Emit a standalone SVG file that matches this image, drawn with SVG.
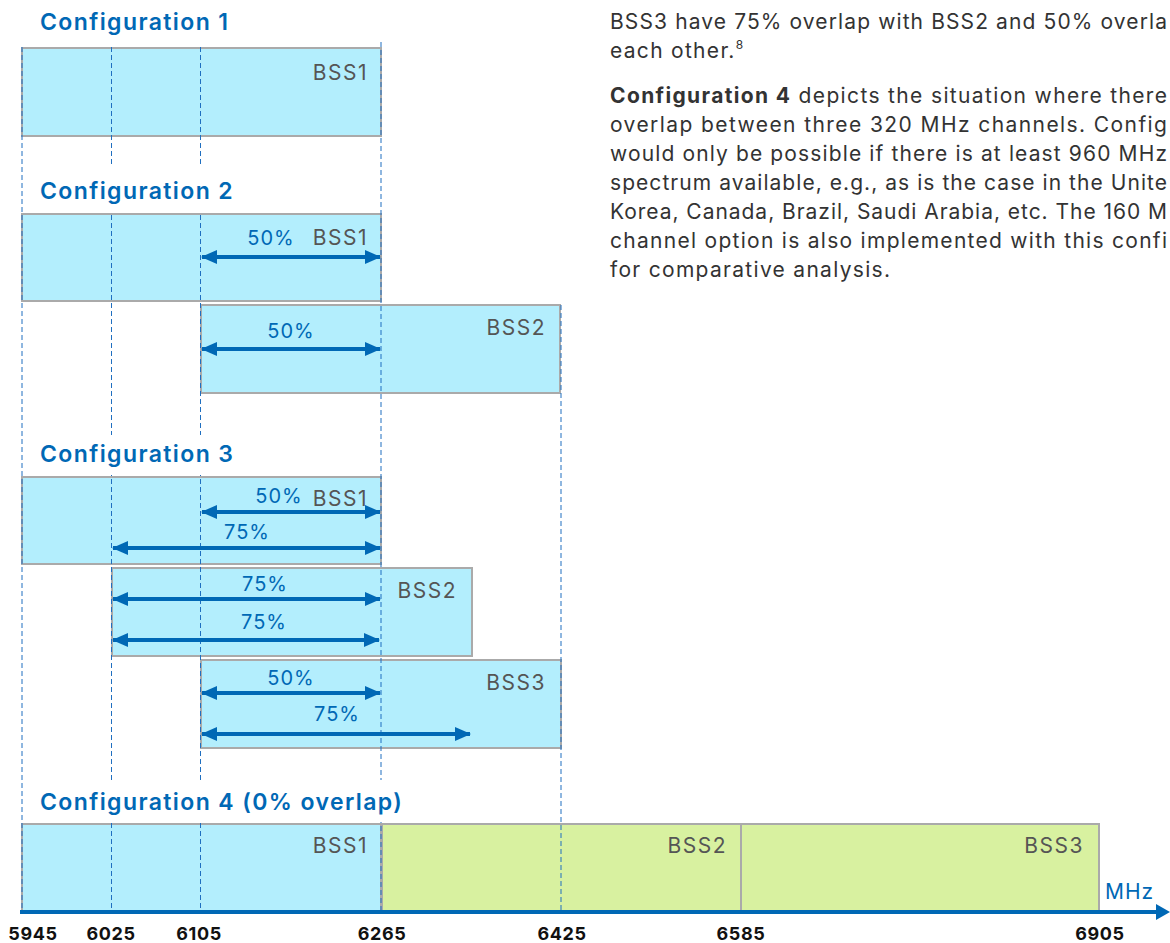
<svg xmlns="http://www.w3.org/2000/svg" width="1170" height="943" viewBox="0 0 1170 943">
<style>
  .bg{fill:#ffffff}
  .ch{fill:#b3eefd;stroke:#aaaaaa;stroke-width:2}
  .chg{fill:#d8f1a0;stroke:#aaaaaa;stroke-width:2}
  .guide{stroke:#1f6fc0;stroke-width:1;stroke-dasharray:5 3;fill:none}
  .cfg{font-family:Inter,"Noto Sans",sans-serif;font-weight:600;font-size:23px;letter-spacing:1.4px;fill:#0068b5}
  .bss{font-family:Inter,"Noto Sans",sans-serif;font-size:21px;letter-spacing:1.5px;fill:#555555;text-anchor:end}
  .pct{font-family:Inter,"Noto Sans",sans-serif;font-size:20px;letter-spacing:1px;fill:#0068b5;text-anchor:middle}
  .arr{stroke:#0068b5;stroke-width:4;fill:none}
  .tick{font-family:Inter,"Noto Sans",sans-serif;font-weight:700;font-size:18px;letter-spacing:0.6px;fill:#111111;text-anchor:middle}
  .body{font-family:Inter,"Noto Sans",sans-serif;font-size:21px;fill:#333333}
  .unit{font-family:Inter,"Noto Sans",sans-serif;font-size:21px;letter-spacing:1px;fill:#0068b5}
</style>
<defs>
  <marker id="ah" markerUnits="userSpaceOnUse" markerWidth="16" markerHeight="14" refX="15" refY="7" orient="auto-start-reverse">
    <path d="M0,0 L16,7 L0,14 z" fill="#0068b5"/>
  </marker>
</defs>
<rect class="bg" x="0" y="0" width="1170" height="943"/>

<!-- body text -->
<g id="bodytext">
  <text class="body" x="610" y="29" textLength="557" lengthAdjust="spacing">BSS3 have 75% overlap with BSS2 and 50% overla</text>
  <text class="body" x="610" y="58" letter-spacing="1.3px">each other.<tspan font-size="12" dy="-9">8</tspan></text>
  <text class="body" x="610" y="103" textLength="557" lengthAdjust="spacing"><tspan font-weight="700">Configuration 4</tspan> depicts the situation where there</text>
  <text class="body" x="610" y="132" textLength="557" lengthAdjust="spacing">overlap between three 320 MHz channels. Config</text>
  <text class="body" x="610" y="161" textLength="557" lengthAdjust="spacing">would only be possible if there is at least 960 MHz</text>
  <text class="body" x="610" y="190" textLength="557" lengthAdjust="spacing">spectrum available, e.g., as is the case in the Unite</text>
  <text class="body" x="610" y="219" textLength="557" lengthAdjust="spacing">Korea, Canada, Brazil, Saudi Arabia, etc. The 160 M</text>
  <text class="body" x="610" y="248" textLength="557" lengthAdjust="spacing">channel option is also implemented with this confi</text>
  <text class="body" x="610" y="277" textLength="280" lengthAdjust="spacing">for comparative analysis.</text>
</g>

<!-- channel blocks -->
<g id="c1-bss1"><rect class="ch" x="22" y="48" width="359" height="88"/><text class="bss" x="368" y="80">BSS1</text></g>
<g id="c2-bss1"><rect class="ch" x="22" y="214" width="359" height="87"/><text class="bss" x="368" y="245">BSS1</text></g>
<g id="c2-bss2"><rect class="ch" x="201" y="305" width="359" height="88"/><text class="bss" x="546" y="335">BSS2</text></g>
<g id="c3-bss1"><rect class="ch" x="22" y="477" width="359" height="87"/><text class="bss" x="368" y="506">BSS1</text></g>
<g id="c3-bss2"><rect class="ch" x="112" y="568" width="360" height="88"/><text class="bss" x="457" y="598">BSS2</text></g>
<g id="c3-bss3"><rect class="ch" x="201" y="660" width="360" height="88"/><text class="bss" x="546" y="690">BSS3</text></g>
<g id="c4-bss1"><rect class="ch" x="22" y="824" width="359" height="88"/><text class="bss" x="368" y="853">BSS1</text></g>
<g id="c4-bss2"><rect class="chg" x="382" y="824" width="359" height="88"/><text class="bss" x="727" y="853">BSS2</text></g>
<g id="c4-bss3"><rect class="chg" x="741" y="824" width="358" height="88"/><text class="bss" x="1084" y="853">BSS3</text></g>

<!-- guides -->
<g id="guides">
  <line class="guide" x1="22" y1="47" x2="22" y2="912"/>
  <line class="guide" x1="111.5" y1="47" x2="111.5" y2="912"/>
  <line class="guide" x1="200.5" y1="47" x2="200.5" y2="912"/>
  <line class="guide" x1="381" y1="42" x2="381" y2="912"/>
  <line class="guide" x1="561" y1="305" x2="561" y2="912"/>
</g>

<!-- section labels -->
<g id="label-c1"><text class="cfg" x="40" y="30">Configuration 1</text></g>
<g id="label-c2"><rect class="bg" x="30" y="165" width="223" height="47"/><text class="cfg" x="40" y="199">Configuration 2</text></g>
<g id="label-c3"><rect class="bg" x="30" y="435" width="223" height="40"/><text class="cfg" x="40" y="462">Configuration 3</text></g>
<g id="label-c4"><rect class="bg" x="30" y="780" width="380" height="42"/><text class="cfg" x="40" y="810">Configuration 4 (0% overlap)</text></g>

<!-- overlap arrows -->
<g id="connectors">
  <line class="arr" x1="202" y1="257" x2="380" y2="257" marker-start="url(#ah)" marker-end="url(#ah)"/>
  <line class="arr" x1="202" y1="349" x2="380" y2="349" marker-start="url(#ah)" marker-end="url(#ah)"/>
  <line class="arr" x1="202" y1="512" x2="380" y2="512" marker-start="url(#ah)" marker-end="url(#ah)"/>
  <line class="arr" x1="113" y1="548" x2="380" y2="548" marker-start="url(#ah)" marker-end="url(#ah)"/>
  <line class="arr" x1="113" y1="599" x2="380" y2="599" marker-start="url(#ah)" marker-end="url(#ah)"/>
  <line class="arr" x1="113" y1="640" x2="379" y2="640" marker-start="url(#ah)" marker-end="url(#ah)"/>
  <line class="arr" x1="202" y1="693" x2="380" y2="693" marker-start="url(#ah)" marker-end="url(#ah)"/>
  <line class="arr" x1="202" y1="734" x2="470" y2="734" marker-start="url(#ah)" marker-end="url(#ah)"/>
</g>
<g id="pct-labels">
  <text class="pct" x="271" y="245">50%</text>
  <text class="pct" x="291" y="338">50%</text>
  <text class="pct" x="279" y="503">50%</text>
  <text class="pct" x="247" y="539">75%</text>
  <text class="pct" x="265" y="591">75%</text>
  <text class="pct" x="264" y="629">75%</text>
  <text class="pct" x="291" y="685">50%</text>
  <text class="pct" x="337" y="721">75%</text>
</g>

<!-- axis -->
<g id="axis">
  <line x1="20" y1="912" x2="1158" y2="912" stroke="#0068b5" stroke-width="4"/>
  <path d="M1156,904 L1170,912 L1156,920 z" fill="#0068b5"/>
  <text class="unit" x="1105" y="899">MHz</text>
  <text class="tick" x="33" y="940">5945</text>
  <text class="tick" x="111" y="940">6025</text>
  <text class="tick" x="199" y="940">6105</text>
  <text class="tick" x="382" y="940">6265</text>
  <text class="tick" x="562" y="940">6425</text>
  <text class="tick" x="741" y="940">6585</text>
  <text class="tick" x="1100" y="940">6905</text>
</g>
</svg>
